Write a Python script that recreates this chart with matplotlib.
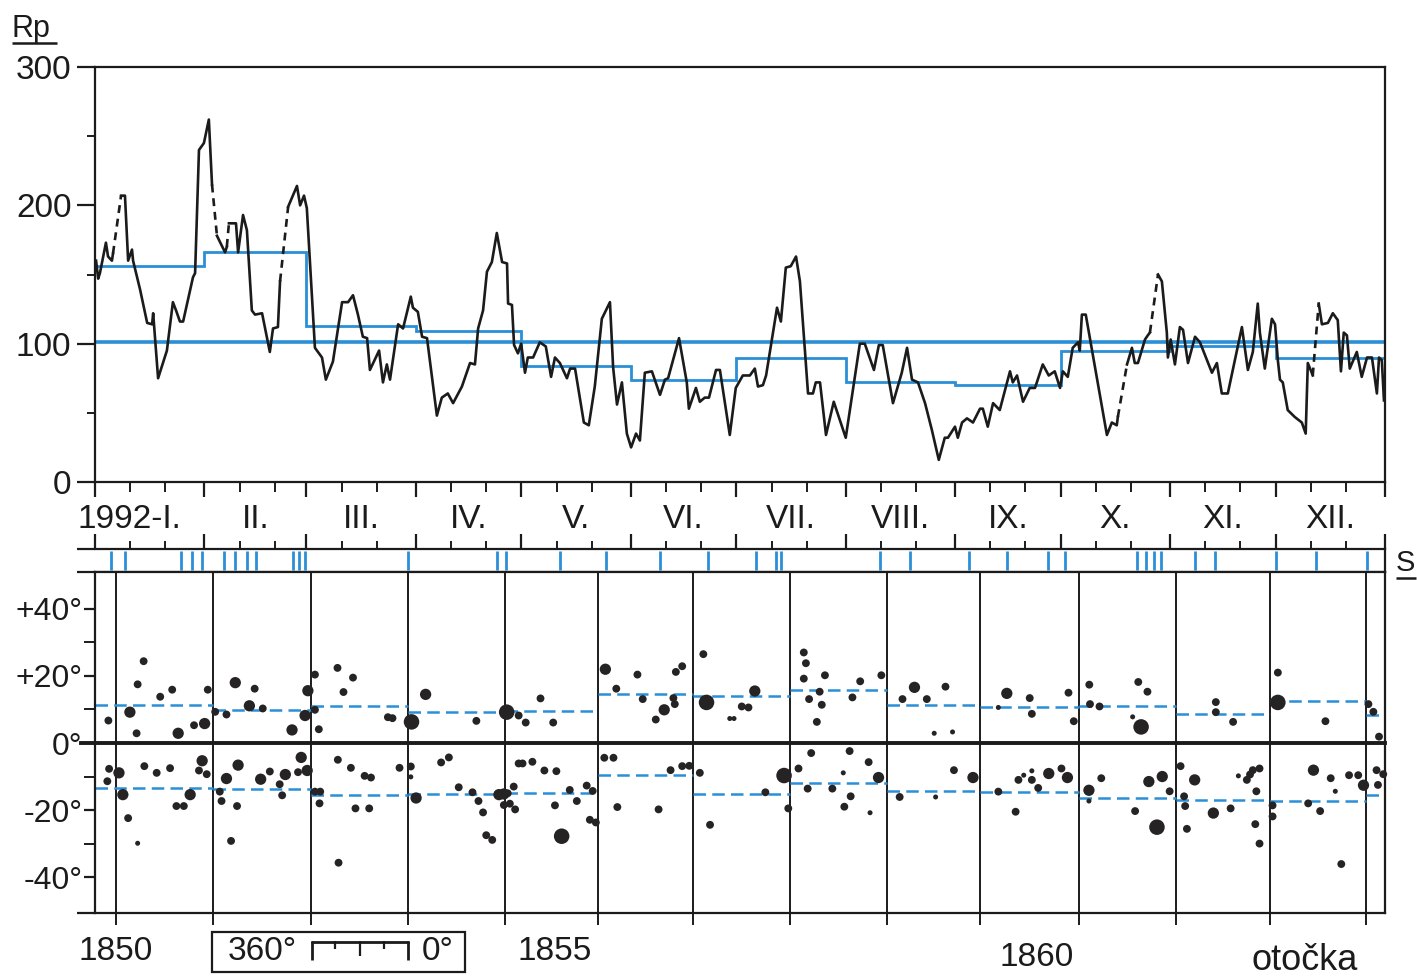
import numpy as np
import matplotlib.pyplot as plt
from matplotlib.lines import Line2D
from matplotlib.patches import Rectangle
from matplotlib.transforms import blended_transform_factory

plt.rcParams['font.family'] = ['Liberation Sans', 'DejaVu Sans']

# daily relative sunspot number 1992 (day of year, value)
rp_day = [0.3, 0.9, 1.4, 3.1, 3.7, 4.8, 5.1, 7.4, 8.5, 9.4, 10.5, 10.8, 12.8, 14.8, 16.2, 16.5,
          17.9, 20.4, 22.1, 23.0, 24.1, 25.0, 27.8, 28.4, 29.5, 30.9, 32.3, 33.2, 34.6, 36.9,
          37.4, 38.0, 40.0, 40.6, 42.0, 43.1, 44.5, 45.4, 47.4, 49.6, 50.5, 51.9, 52.5, 54.8,
          57.3, 58.2, 59.3, 60.1, 62.4, 64.4, 65.5, 67.5, 70.1, 71.8, 73.2, 74.6, 76.0, 77.2,
          78.0, 80.6, 81.7, 82.8, 83.7, 86.0, 87.4, 89.6, 90.2, 91.6, 92.8, 94.2, 97.0, 98.4,
          100.1, 101.6, 104.1, 106.4, 107.8, 108.7, 110.1, 111.2, 112.6, 114.0, 115.5, 116.9,
          117.2, 118.3, 118.9, 120.0, 120.9, 122.0, 122.8, 124.3, 126.2, 127.9, 129.4, 130.5,
          131.9, 133.9, 134.8, 136.2, 138.7, 140.1, 141.8, 143.8, 146.1, 147.0, 148.1, 149.5,
          150.9, 152.1, 153.5, 154.6, 156.0, 158.0, 160.3, 161.7, 162.6, 165.7, 167.9, 168.5,
          170.5, 171.6, 173.0, 174.2, 176.2, 177.3, 180.1, 181.8, 183.8, 185.8, 187.2, 188.1,
          189.5, 190.4, 193.5, 194.6, 196.0, 197.4, 198.9, 200.0, 202.3, 203.7, 204.5, 205.7,
          207.4, 209.6, 213.0, 217.0, 218.4, 221.0, 222.4, 223.5, 226.4, 228.9, 230.4, 231.8,
          233.5, 235.5, 237.4, 239.4, 241.1, 242.0, 244.0, 244.8, 246.0, 247.4, 249.1, 251.1,
          251.9, 253.3, 254.8, 256.7, 259.6, 260.4, 261.6, 263.3, 265.2, 266.7, 268.9, 270.6,
          272.3, 273.8, 274.6, 276.0, 277.4, 278.9, 279.4, 280.0, 281.1, 287.1, 288.5, 289.9,
          290.2, 292.8, 294.2, 295.0, 295.9, 297.9, 298.7, 299.3, 301.6, 302.7, 304.1, 304.4,
          305.2, 306.4, 307.8, 308.7, 310.1, 312.1, 313.5, 316.9, 318.3, 319.7, 321.4, 325.4,
          327.1, 328.5, 329.9, 330.5, 331.9, 333.9, 334.8, 335.6, 336.2, 337.0, 338.4, 340.4,
          342.4, 343.5, 344.1, 344.9, 345.5, 347.2, 348.1, 349.8, 351.2, 352.6, 353.5, 354.3,
          355.2, 356.0, 358.0, 359.4, 360.9, 362.3, 363.7, 364.3, 365.1, 365.7]
rp_val = [160, 147, 151, 173, 163, 160, 165, 207, 207, 160, 168, 160, 139, 115, 114, 122,
          75, 95, 130, 124, 116, 116, 148, 151, 240, 245, 262, 215, 178, 166,
          170, 187, 187, 166, 193, 182, 124, 121, 122, 94, 111, 112, 145, 199,
          214, 200, 207, 198, 97, 90, 74, 87, 130, 130, 135, 121, 105, 104,
          81, 95, 72, 85, 74, 114, 111, 134, 126, 123, 105, 104, 48, 61,
          64, 57, 69, 86, 85, 111, 124, 152, 159, 180, 159, 158,
          129, 128, 99, 93, 100, 79, 90, 90, 101, 98, 76, 90,
          86, 75, 82, 82, 43, 41, 69, 118, 130, 83, 56, 72,
          35, 25, 35, 30, 79, 80, 63, 74, 75, 104, 72, 53,
          68, 58, 61, 61, 81, 81, 34, 68, 77, 77, 82, 69,
          70, 77, 126, 116, 155, 156, 163, 145, 64, 64, 72, 72,
          34, 58, 32, 100, 100, 81, 99, 99, 57, 79, 97, 74,
          72, 57, 38, 16, 32, 32, 40, 32, 43, 46, 43, 53,
          53, 40, 57, 52, 80, 72, 77, 58, 68, 68, 85, 77,
          80, 68, 80, 76, 97, 101, 95, 121, 121, 34, 43, 41,
          47, 85, 97, 86, 86, 103, 106, 108, 150, 145, 108, 90,
          103, 85, 112, 110, 86, 105, 101, 79, 86, 64, 64, 112,
          81, 94, 129, 108, 82, 118, 114, 88, 74, 72, 52, 47,
          43, 35, 86, 81, 77, 129, 114, 115, 122, 117, 80, 108,
          106, 82, 94, 76, 90, 90, 64, 90, 88, 59]
# segments drawn dashed (missing days) start at these days
rp_dashed_from = [5.1, 33.2, 37.4, 52.5, 290.2, 299.3, 345.5]

rp_year_mean = 101
month_start = [0, 31, 60, 91, 121, 152, 182, 213, 244, 274, 305, 335, 366]
month_mean = [156, 166, 113, 109, 84, 74, 90, 72, 70, 95, 98, 90]
month_names = ['1992-I.', 'II.', 'III.', 'IV.', 'V.', 'VI.', 'VII.', 'VIII.',
               'IX.', 'X.', 'XI.', 'XII.']

# S strip marks (day of year)
s_days = [4.5, 8.5, 24.4, 27.5, 30.4, 36.6, 39.7, 43.1, 45.7, 56.2, 57.9, 59.6, 88.8,
          114.0, 116.6, 131.9, 145.0, 160.3, 173.9, 187.5, 193.2, 194.6, 222.7, 231.2,
          247.9, 258.7, 270.4, 275.2, 295.6, 298.2, 300.4, 302.4, 312.1, 317.7, 335.0,
          346.4, 360.9]

# Carrington rotations 1850-1863: start day and mean latitude N / S
rot_start = [5.96, 33.5, 61.3, 88.8, 116.3, 142.7, 169.6, 197.2, 224.7, 251.1, 279.1,
             306.7, 333.3, 360.6]
rot_lat_n = [11.3, 9.8, 11.1, 9.3, 9.5, 14.5, 13.9, 15.8, 11.2, 10.8, 10.9, 8.7, 12.5, 8.4]
rot_lat_s = [-13.5, -13.8, -15.4, -15.2, -14.9, -9.5, -15.2, -12.0, -14.3, -14.7, -16.3,
             -16.9, -17.2, -15.5]

# sunspot groups, northern hemisphere: day, latitude, size class (0 tiny .. 3 large)
north_day = [3.8, 9.9, 11.8, 12.1, 13.8, 18.5, 21.9, 23.6, 28.1, 31.1, 32.0, 34.1, 37.3,
             39.8, 43.8, 45.3, 47.6, 55.9, 59.6, 60.4, 62.4, 62.4, 63.5, 68.8, 70.5, 73.2,
             83.1, 84.4, 89.8, 93.8, 108.2, 116.8, 120.2, 122.2, 126.4, 130.0, 144.8, 147.9,
             153.9, 155.4, 159.1, 161.5, 164.1, 164.5, 164.8, 166.6, 172.6, 173.5,
             180.1, 181.3, 183.5, 185.4, 187.2,
             201.1, 201.7, 201.1, 202.6, 204.8, 205.6, 206.2, 207.1,
             214.9, 217.1, 223.1, 229.1, 232.5, 236.0, 238.1, 241.3, 243.3,
             256.3, 258.7, 265.2, 265.8,
             276.2, 277.7, 282.1, 282.3, 285.0,
             294.4, 296.0, 298.6, 296.8,
             318.0, 318.0, 322.9,
             335.6, 335.6, 349.1,
             361.3, 362.7, 364.3]
north_lat = [6.7, 9.2, 2.9, 17.5, 24.4, 13.8, 15.9, 2.9, 5.3, 5.8, 15.9, 9.3, 8.5,
             18.0, 11.1, 16.2, 10.3, 3.9, 8.2, 15.6, 20.4, 9.9, 4.1, 22.4, 15.2, 19.5,
             7.7, 7.4, 6.3, 14.5, 6.6, 9.2, 8.2, 6.1, 13.3, 6.1, 22.0, 16.2,
             20.4, 13.1, 7.0, 9.9, 13.4, 11.6, 21.2, 22.9, 26.5, 12.1,
             7.3, 7.3, 10.9, 10.6, 15.5,
             27.0, 23.8, 19.2, 13.1, 6.3, 15.3, 11.4, 20.2,
             13.6, 18.4, 20.2, 13.1, 16.6, 13.1, 2.9, 16.8, 3.3,
             10.6, 14.8, 13.4, 8.7,
             15.0, 6.5, 17.4, 11.6, 10.9,
             7.8, 18.2, 15.3, 4.8,
             12.2, 9.2, 6.3,
             21.0, 12.1, 6.5,
             11.6, 9.3, 1.9]
north_cls = [1, 2, 1, 1, 1, 1, 1, 2, 1, 2, 1, 1, 1,
             2, 2, 1, 1, 2, 2, 2, 1, 1, 1, 1, 1, 1,
             1, 1, 3, 2, 1, 3, 1, 1, 1, 1, 2, 1,
             1, 1, 1, 2, 1, 1, 1, 1, 1, 3,
             0, 0, 1, 1, 2,
             1, 1, 1, 1, 1, 1, 1, 1,
             1, 1, 1, 1, 2, 1, 0, 1, 0,
             0, 2, 1, 1,
             1, 1, 1, 1, 1,
             0, 1, 1, 3,
             1, 1, 1,
             1, 3, 1,
             1, 1, 1]

# sunspot groups, southern hemisphere
south_day = [3.5, 4.0, 6.8, 7.9, 9.4, 12.1, 14.0, 17.5, 21.3, 23.1, 25.2, 27.0, 29.5, 30.4,
             31.7, 35.4, 35.9, 37.3, 38.6, 40.3, 40.6, 47.0, 49.6, 52.4, 53.1, 54.0, 57.6,
             58.5, 60.2, 62.4, 63.9, 63.7, 68.9, 69.1, 72.6, 73.9, 76.5, 77.8, 78.3, 86.4,
             89.6, 89.6, 91.1, 98.2, 100.4, 103.2, 107.1, 108.8, 110.1, 111.0, 112.7, 114.6,
             116.0, 117.1, 117.7, 116.0, 118.8, 119.2, 120.2, 121.3, 124.1, 127.5, 130.5,
             130.9, 132.4, 134.7, 136.7, 139.5, 140.4, 141.2, 142.1, 144.5, 147.1, 148.2,
             159.9, 163.3, 166.6, 168.6, 171.6, 174.5, 190.2, 195.5, 196.7, 199.6, 202.2,
             203.2, 209.2, 212.3, 212.6, 214.1, 214.4, 219.5, 219.9, 222.3, 228.3, 238.5,
             243.7, 249.1, 256.3, 261.2, 262.0, 263.5, 265.8, 265.8, 267.6, 270.6, 274.2,
             275.9, 282.0, 282.0, 285.5, 295.1, 299.0, 301.3, 302.8, 304.9, 308.0, 309.0,
             309.3, 309.8, 312.0, 317.3, 322.2, 324.4, 326.8, 327.7, 328.5, 330.4, 329.5,
             329.2, 330.4, 334.1, 334.1, 344.2, 345.7, 347.6, 350.6, 351.9, 353.6, 355.8,
             358.4, 359.9, 363.6, 364.0, 365.5]
south_lat = [-11.4, -7.7, -8.9, -15.4, -22.4, -29.9, -6.9, -8.9, -7.5, -18.8, -18.8, -15.4, -8.2, -5.3,
             -9.3, -14.5, -17.3, -10.6, -29.2, -18.8, -6.6, -10.8, -8.5, -12.3, -15.6, -9.4, -8.7,
             -4.3, -8.2, -14.5, -14.5, -18.0, -5.0, -35.7, -7.4, -19.5, -9.8, -19.5, -10.3, -7.4,
             -7.0, -10.1, -16.4, -5.8, -4.3, -13.2, -14.7, -17.3, -20.7, -27.5, -28.9, -15.4,
             -15.2, -15.0, -18.1, -18.5, -13.0, -19.8, -6.1, -6.1, -5.6, -8.2, -18.6,
             -8.4, -27.8, -14.0, -17.3, -12.7, -22.9, -14.3, -23.7, -4.4, -4.4, -19.1,
             -19.8, -8.1, -6.9, -6.8, -8.9, -24.4, -14.7, -9.7, -19.5, -7.6, -13.6,
             -3.0, -13.6, -8.9, -19.0, -2.4, -15.9, -5.7, -20.8, -10.3, -16.1, -16.1,
             -8.1, -10.3, -14.5, -20.5, -11.0, -9.6, -8.3, -11.0, -13.4, -9.1, -7.6,
             -10.3, -14.1, -17.3, -10.5, -20.3, -11.5, -25.1, -10.0, -14.4, -6.9, -15.9,
             -18.8, -25.6, -11.0, -20.9, -19.5, -9.8, -11.0, -9.4, -8.1, -7.6, -14.4,
             -24.2, -30.0, -18.6, -21.9, -18.0, -8.1, -20.3, -10.5, -14.4, -36.1, -9.6,
             -9.6, -12.6, -8.1, -12.5, -9.3]
south_cls = [1, 1, 2, 2, 1, 0, 1, 1, 1, 1, 1, 2, 1, 2,
             1, 1, 1, 2, 1, 1, 2, 2, 1, 1, 1, 2, 1,
             2, 2, 1, 1, 1, 1, 1, 1, 1, 1, 1, 1, 1,
             1, 0, 2, 1, 1, 1, 1, 1, 1, 1, 1, 2,
             2, 1, 1, 1, 1, 1, 1, 1, 1, 1, 1,
             1, 3, 1, 1, 1, 1, 1, 1, 1, 1, 1,
             1, 1, 1, 1, 1, 1, 1, 3, 1, 1, 1,
             1, 1, 0, 1, 1, 1, 1, 0, 2, 1, 0,
             1, 2, 1, 1, 1, 0, 0, 1, 1, 2, 1,
             2, 2, 0, 1, 1, 2, 3, 2, 1, 1, 1,
             1, 1, 2, 2, 1, 0, 1, 1, 1, 1, 1,
             1, 1, 1, 1, 1, 2, 1, 1, 0, 1, 1,
             1, 2, 1, 1, 1]

BLUE = '#2a8fd6'
INK = '#1b1b1b'
W, H = 1417, 977

fig = plt.figure(figsize=(W / 100, H / 100), dpi=100)


def box(x0, y0, x1, y1):
    # pixel rectangle (top-left origin) -> figure fractions
    return [x0 / W, 1 - y1 / H, (x1 - x0) / W, (y1 - y0) / H]


def pline(xs, ys, lw=1.6):
    fig.add_artist(Line2D([x / W for x in xs], [1 - y / H for y in ys],
                          color=INK, lw=lw, solid_capstyle='butt'))


ax1 = fig.add_axes(box(95, 67, 1385, 482))
axs = fig.add_axes(box(95, 549, 1385, 572))
ax2 = fig.add_axes(box(95, 572, 1385, 913))

dekads = [m + 10 for m in month_start[:-1]] + [m + 20 for m in month_start[:-1]]

# ---- top panel: Rp ----
ax1.set_xlim(0, 366)
ax1.set_ylim(0, 300)
for sp in ax1.spines.values():
    sp.set_linewidth(1.6)
    sp.set_color(INK)
ax1.set_yticks([0, 100, 200, 300])
ax1.set_yticks([50, 150, 250], minor=True)
ax1.set_xticks(month_start)
ax1.set_xticks(dekads, minor=True)
ax1.tick_params(axis='y', which='major', length=13, width=1.6, labelsize=24, pad=4, colors=INK)
ax1.tick_params(axis='y', which='minor', length=6, width=1.4, colors=INK)
ax1.tick_params(axis='x', which='major', length=11, width=1.6, labelbottom=False, colors=INK)
ax1.tick_params(axis='x', which='minor', length=7, width=1.4, colors=INK)

d = np.array(rp_day)
v = np.array(rp_val)
cuts = [int(np.argmin(np.abs(d - g))) for g in rp_dashed_from]
i0 = 0
for c in cuts:
    ax1.plot(d[i0:c + 1], v[i0:c + 1], color=INK, lw=1.9, zorder=3)
    ax1.plot(d[c:c + 2], v[c:c + 2], color=INK, lw=1.9, ls=(0, (3, 2.2)), zorder=3)
    i0 = c + 1
ax1.plot(d[i0:], v[i0:], color=INK, lw=1.9, zorder=3)

ax1.axhline(rp_year_mean, color=BLUE, lw=2.6, zorder=2)
ax1.stairs(month_mean, month_start, baseline=None, color=BLUE, lw=2.0, zorder=2)

lab_tr = blended_transform_factory(ax1.transData, fig.transFigure)
mids = [(a + b) / 2 for a, b in zip(month_start[:-1], month_start[1:])]
for k, name in enumerate(month_names):
    if k == 0:
        ax1.text(24.5, 1 - 520 / H, name, transform=lab_tr, ha='right', va='center',
                 fontsize=24, color=INK)
    else:
        ax1.text(mids[k], 1 - 520 / H, name, transform=lab_tr, ha='center', va='center',
                 fontsize=24, color=INK)

fig.text(12 / W, 1 - 37 / H, 'Rp', fontsize=22, va='baseline', ha='left', color=INK)
pline([12, 57], [43, 43], lw=1.8)

# ---- S strip ----
axs.set_xlim(0, 366)
axs.set_ylim(0, 1)
axs.spines['left'].set_visible(False)
for sp in ('top', 'bottom', 'right'):
    axs.spines[sp].set_linewidth(1.6)
    axs.spines[sp].set_color(INK)
axs.set_yticks([])
axs.xaxis.set_ticks_position('top')
axs.set_xticks(month_start)
axs.set_xticks(dekads, minor=True)
axs.tick_params(axis='x', which='major', length=11, width=1.6, labeltop=False, labelbottom=False, colors=INK)
axs.tick_params(axis='x', which='minor', length=6, width=1.4, colors=INK)
axs.vlines(s_days, 0.1, 0.9, color=BLUE, lw=2.0)
pline([77, 95], [549, 549])
pline([77, 95], [572, 572])
fig.text(1396 / W, 1 - 571 / H, 'S', fontsize=21, va='baseline', ha='left', color=INK)
pline([1396, 1416], [578, 578], lw=1.8)

# ---- lower panel: latitudes ----
ax2.set_xlim(0, 366)
ax2.set_ylim(-50.7, 51)
for sp in ax2.spines.values():
    sp.set_linewidth(1.6)
    sp.set_color(INK)
ax2.set_xticks([])
ax2.set_yticks([-40, -20, 0, 20, 40], ['-40°', '-20°', '0°', '+20°', '+40°'])
ax2.set_yticks([-30, -10, 10, 30], minor=True)
ax2.tick_params(axis='y', which='major', length=8, width=1.6, labelsize=23, pad=1, colors=INK)
ax2.tick_params(axis='y', which='minor', length=8, width=1.4, colors=INK)
pline([77, 95], [913, 913])

ax2.plot([-4, 366], [0, 0], color=INK, lw=2.8, clip_on=False, zorder=3)
ax2.vlines(rot_start, -54.3, 51, color=INK, lw=1.4, clip_on=False, zorder=1)

edges = [0] + rot_start[1:] + [366]
for k in range(len(rot_start)):
    ax2.hlines(rot_lat_n[k], edges[k], edges[k + 1], colors=BLUE, lw=1.8,
               linestyles=(0, (5, 2.5)), zorder=2)
    ax2.hlines(rot_lat_s[k], edges[k], edges[k + 1], colors=BLUE, lw=1.8,
               linestyles=(0, (5, 2.5)), zorder=2)

size_of = {0: 13, 1: 32, 2: 66, 3: 125}
for sd, sl, sc in ((north_day, north_lat, north_cls), (south_day, south_lat, south_cls)):
    ax2.scatter(sd, sl, s=[size_of[c] for c in sc], color='#262324',
                linewidths=0, zorder=4, clip_on=False)

# ---- bottom labels ----
fig.text(116 / W, 1 - 951 / H, '1850', fontsize=24, ha='center', va='center', color=INK)
fig.text(555 / W, 1 - 951 / H, '1855', fontsize=24, ha='center', va='center', color=INK)
fig.text(1037 / W, 1 - 957 / H, '1860', fontsize=24, ha='center', va='center', color=INK)
fig.text(1305 / W, 1 - 961 / H, 'otočka', fontsize=26, ha='center', va='center', color=INK)

fig.add_artist(Rectangle((212 / W, 1 - 972 / H), 253 / W, 40 / H, fill=False,
                         edgecolor=INK, lw=1.6))
fig.text(262 / W, 1 - 952 / H, '360°', fontsize=24, ha='center', va='center', color=INK)
fig.text(438 / W, 1 - 952 / H, '0°', fontsize=24, ha='center', va='center', color=INK)
pline([311, 409], [942, 942], lw=2.0)
pline([312, 312], [941, 960], lw=2.0)
pline([408, 408], [941, 960], lw=2.0)
pline([360, 360], [941, 956], lw=1.6)
pline([335, 335], [941, 949], lw=1.6)
pline([384, 384], [941, 949], lw=1.6)

fig.savefig('out.png', dpi=100)
